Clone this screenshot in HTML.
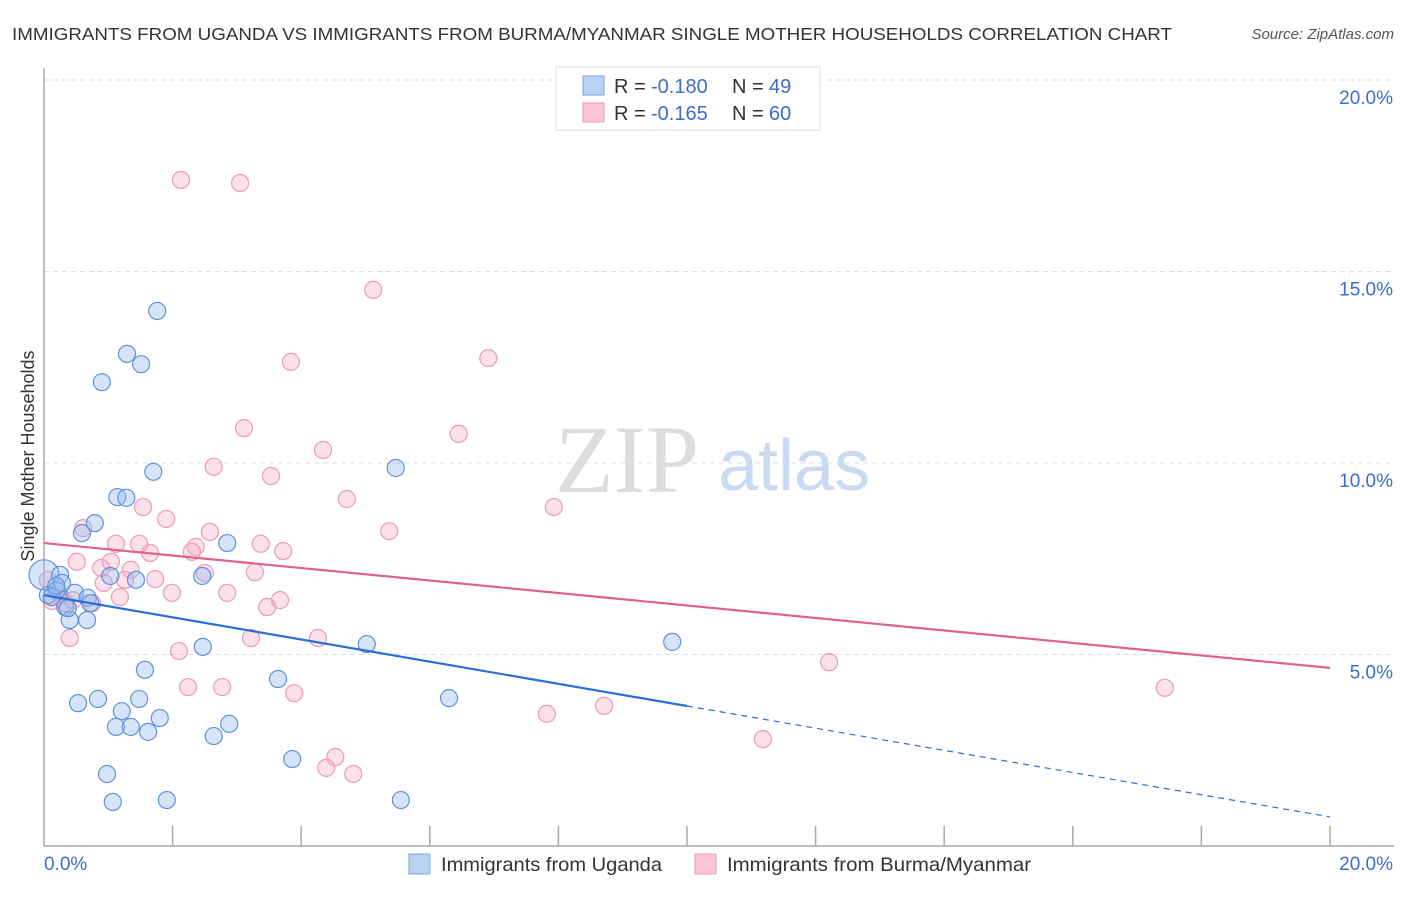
<!DOCTYPE html>
<html><head><meta charset="utf-8"><style>
body{margin:0;background:#fff;font-family:"Liberation Sans",sans-serif;}
</style></head><body>
<svg id="c" width="1406" height="892" xmlns="http://www.w3.org/2000/svg">
<text x="12" y="40" font-size="17.5" fill="#333" textLength="1160" lengthAdjust="spacingAndGlyphs">IMMIGRANTS FROM UGANDA VS IMMIGRANTS FROM BURMA/MYANMAR SINGLE MOTHER HOUSEHOLDS CORRELATION CHART</text>
<text x="1394" y="39" font-size="15" fill="#555" font-style="italic" text-anchor="end">Source: ZipAtlas.com</text>
<text x="555" y="492" font-size="96" fill="#ddd" font-family="Liberation Serif,serif">ZIP</text>
<text x="718" y="490" font-size="72" fill="#c9daf3">atlas</text>
<text transform="translate(34,456) rotate(-90)" font-size="18" fill="#333" text-anchor="middle">Single Mother Households</text>
<g id="grid"></g><g id="marks"></g><g id="lines"></g>
<g>
<rect x="556" y="67" width="264" height="63" fill="#fff" stroke="#ddd"/>
<rect x="583" y="76" width="21" height="19" fill="#b8d2f5" stroke="#7aa5e0"/>
<rect x="583" y="103" width="21" height="19" fill="#fcc6d6" stroke="#ef9ab6"/>
<text x="614" y="93" font-size="20" fill="#333">R =</text>
<text x="651" y="93" font-size="20" fill="#3a6fc8">-0.180</text>
<text x="732" y="93" font-size="20" fill="#333">N =</text>
<text x="769" y="93" font-size="20" fill="#3a6fc8">49</text>
<text x="614" y="120" font-size="20" fill="#333">R =</text>
<text x="651" y="120" font-size="20" fill="#3a6fc8">-0.165</text>
<text x="732" y="120" font-size="20" fill="#333">N =</text>
<text x="769" y="120" font-size="20" fill="#3a6fc8">60</text>
</g>
<g>
<rect x="409" y="854" width="21" height="20" fill="#b8d2f5" stroke="#7aa5e0"/>
<text x="441" y="871" font-size="19.5" fill="#333" textLength="221" lengthAdjust="spacingAndGlyphs">Immigrants from Uganda</text>
<rect x="695" y="854" width="21" height="20" fill="#fcc6d6" stroke="#ef9ab6"/>
<text x="727" y="871" font-size="19.5" fill="#333" textLength="304" lengthAdjust="spacingAndGlyphs">Immigrants from Burma/Myanmar</text>
</g>
</svg>
<script>
const yTicks=[5,10,15,20];
const xTickLabels=["0.0%","20.0%"];
const blueX=[0.0,0.2,0.25,0.28,0.06,0.12,0.33,0.40,0.48,0.53,0.67,0.68,0.72,0.79,0.59,0.84,0.90,0.98,1.03,1.07,1.12,1.14,1.21,1.28,1.29,1.35,1.43,1.48,1.51,1.57,1.62,1.70,1.76,1.80,1.91,2.46,2.47,2.64,2.85,2.88,3.64,3.86,5.02,5.47,5.55,6.30,9.77,0.19,0.37];
const blueY=[7.08,6.68,7.08,6.87,6.55,6.50,6.24,5.90,6.61,3.73,5.90,6.48,6.34,8.43,8.17,3.84,12.11,1.88,7.05,1.15,3.11,9.11,3.52,9.09,12.85,3.11,6.95,3.84,12.58,4.60,2.98,9.77,13.97,3.34,1.20,7.05,5.20,2.87,7.91,3.19,4.36,2.27,5.27,9.87,1.20,3.86,5.33,6.79,6.21];
const pinkX=[2.13,3.05,5.12,3.84,6.91,3.11,6.45,4.34,2.64,3.53,4.71,1.54,7.93,1.90,0.61,2.58,5.37,1.12,1.48,3.37,2.36,3.72,1.65,2.30,0.51,1.04,0.89,1.35,2.50,3.28,1.73,1.26,0.93,1.99,2.85,1.18,3.67,3.47,0.75,0.40,3.22,4.26,2.10,2.24,2.77,3.89,4.53,4.39,4.81,7.82,8.71,11.18,12.21,17.43,0.06,0.12,0.25,0.33,0.19,0.45];
const pinkY=[17.39,17.31,14.52,12.64,12.74,10.91,10.76,10.34,9.90,9.66,9.06,8.85,8.85,8.54,8.30,8.20,8.22,7.89,7.89,7.89,7.81,7.70,7.65,7.68,7.42,7.42,7.26,7.21,7.13,7.15,6.97,6.95,6.87,6.61,6.61,6.50,6.42,6.24,6.34,5.43,5.43,5.43,5.09,4.15,4.15,3.99,2.32,2.04,1.88,3.45,3.66,2.79,4.80,4.13,6.95,6.40,6.53,6.34,6.68,6.42];
const blueTrend=[6.55,-0.2895];
const pinkTrend=[7.91,-0.163];
const NS="http://www.w3.org/2000/svg";
const X=v=>44+v*64.3, Y=v=>846-v*38.3;
function mk(tag,at,parent){const e=document.createElementNS(NS,tag);for(const k in at)e.setAttribute(k,at[k]);document.getElementById(parent).appendChild(e);return e;}
let e;
yTicks.forEach(t=>{
 e=mk('line',{x1:44,x2:1394,y1:Y(t),y2:Y(t),stroke:'#ddd','stroke-dasharray':'5,4'},'grid');
 
 
 e=mk('text',{x:1393,y:Y(t)+24,'font-size':19,fill:'#3a6fc8','text-anchor':'end'},'grid');
 e.textContent=t.toFixed(1)+'%';
 
 
});
e=mk('line',{x1:44,x2:44,y1:68,y2:846,stroke:'#aaa','stroke-width':1.5},'grid');


e=mk('line',{x1:44,x2:1394,y1:846,y2:846,stroke:'#aaa','stroke-width':1.5},'grid');


for(let i=1;i<=10;i++){
 e=mk('line',{x1:X(i*2),x2:X(i*2),y1:826,y2:846,stroke:'#aaa','stroke-width':1.5},'grid');
 
 
}
e=mk('text',{x:44,y:870,'font-size':19,fill:'#3a6fc8'},'grid');e.textContent=xTickLabels[0];


e=mk('text',{x:1393,y:870,'font-size':19,fill:'#3a6fc8','text-anchor':'end'},'grid');e.textContent=xTickLabels[1];


function pts(xs,ys,fill,stroke,name){xs.forEach((x,i)=>{
 const r=(i===0&&name==='uganda-point')?15:8.5;
 e=mk('circle',{cx:X(x),cy:Y(ys[i]),r:r,fill:fill,stroke:stroke,'stroke-width':1.2},'marks');
 
 
});}
pts(pinkX,pinkY,'rgba(246,170,196,0.35)','#ec9ab5','burma-point');
pts(blueX,blueY,'rgba(150,188,240,0.4)','#5f92da','uganda-point');
const bt=v=>blueTrend[0]+blueTrend[1]*v, pt=v=>pinkTrend[0]+pinkTrend[1]*v;
e=mk('line',{x1:X(0),y1:Y(bt(0)),x2:X(10),y2:Y(bt(10)),stroke:'#2a6fd6','stroke-width':2.2},'lines');


e=mk('line',{x1:X(10),y1:Y(bt(10)),x2:X(20),y2:Y(bt(20)),stroke:'#2a6fd6','stroke-width':1.2,'stroke-dasharray':'6,5'},'lines');


e=mk('line',{x1:X(0),y1:Y(pt(0)),x2:X(20),y2:Y(pt(20)),stroke:'#e0608e','stroke-width':2.2},'lines');


</script>
</body></html>
